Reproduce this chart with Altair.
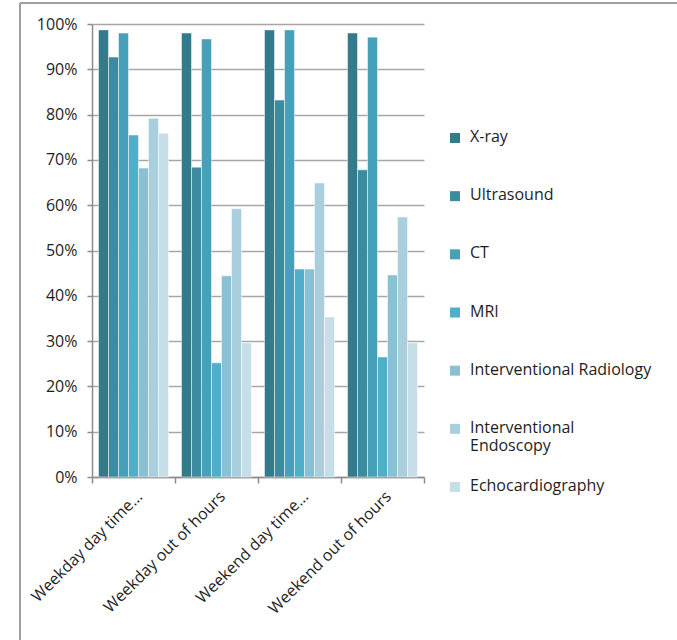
import altair as alt
import pandas as pd

# Share of hospitals with each imaging service available, by time period
periods = [
    "Weekday day time…",
    "Weekday out of hours",
    "Weekend day time…",
    "Weekend out of hours",
]
services = [
    "X-ray",
    "Ultrasound",
    "CT",
    "MRI",
    "Interventional Radiology",
    "Interventional Endoscopy",
    "Echocardiography",
]
# Legend text, with the long name split over two lines
legend_labels = [
    ["X-ray"],
    ["Ultrasound"],
    ["CT"],
    ["MRI"],
    ["Interventional Radiology"],
    ["Interventional", "Endoscopy"],
    ["Echocardiography"],
]
colors = ["#337A8B", "#3B8CA1", "#46A0B9", "#4FAFC8", "#88C1D3", "#A9CFDE", "#C6DEE8"]

# Percent values per service, one entry per period
xray = [98.7, 98.0, 98.7, 98.0]
ultrasound = [92.7, 68.4, 83.2, 67.8]
ct = [98.0, 96.7, 98.7, 97.1]
mri = [75.5, 25.2, 45.9, 26.5]
interventional_radiology = [68.2, 44.4, 45.9, 44.6]
interventional_endoscopy = [79.2, 59.2, 64.9, 57.4]
echocardiography = [75.9, 29.6, 35.3, 29.6]

series = [xray, ultrasound, ct, mri, interventional_radiology,
          interventional_endoscopy, echocardiography]

rows = []
for name, vals in zip(services, series):
    for p, v in zip(periods, vals):
        rows.append({"period": p, "service": name, "pct": v})
df = pd.DataFrame(rows)

legend_df = pd.DataFrame({"service": services, "label": legend_labels})

FONT = "Open Sans"
FS = 16
TXT = "#1E1E1E"
GRID = "#A6A6A6"
AXIS = "#8C8C8C"

color_scale = alt.Scale(domain=services, range=colors)

bars = alt.Chart(df).mark_bar(
    stroke="#FFFFFF", strokeWidth=0.8, strokeOpacity=0.6
).encode(
    x=alt.X(
        "period:N",
        sort=periods,
        title=None,
        scale=alt.Scale(paddingInner=0, paddingOuter=0),
        axis=alt.Axis(
            labelAngle=-45,
            labelFontSize=FS,
            labelFont=FONT,
            labelColor=TXT,
            labelPadding=5,
            labelLimit=300,
            tickBand="extent",
            tickSize=6,
            tickColor=AXIS,
            tickWidth=1.5,
            domainColor=AXIS,
            domainWidth=1.5,
            grid=False,
        ),
    ),
    xOffset=alt.XOffset(
        "service:N",
        sort=services,
        scale=alt.Scale(paddingInner=0, paddingOuter=0.65),
    ),
    y=alt.Y(
        "pct:Q",
        title=None,
        scale=alt.Scale(domain=[0, 100], nice=False),
        axis=alt.Axis(
            values=list(range(0, 101, 10)),
            labelExpr="datum.value + '%'",
            labelFontSize=FS,
            labelFont=FONT,
            labelColor=TXT,
            labelPadding=10,
            tickSize=5,
            tickColor=AXIS,
            tickWidth=1.5,
            domainColor=AXIS,
            domainWidth=1.5,
            gridColor=GRID,
            gridWidth=1.5,
        ),
    ),
    color=alt.Color("service:N", sort=services, scale=color_scale, legend=None),
)

# Legend column to the right of the plot, evenly spaced entries
legend_y = alt.Y(
    "service:N",
    sort=services,
    scale=alt.Scale(type="point", range=[114, 463], padding=0),
    axis=None,
)
legend_marks = alt.Chart(legend_df).mark_square(size=100, opacity=1).encode(
    x=alt.value(363),
    y=legend_y,
    color=alt.Color("service:N", sort=services, scale=color_scale, legend=None),
)
legend_text = alt.Chart(legend_df).mark_text(
    align="left", baseline="top", dy=-9, font=FONT, fontSize=FS,
    color=TXT, lineHeight=18,
).encode(
    x=alt.value(378),
    y=legend_y,
    text="label",
)

# Thin frame along the left and top edges of the figure
frame_data = alt.Data(values=[{"k": 0}])
frame_left = alt.Chart(frame_data).mark_rule(color="#A0A0A0", strokeWidth=2).encode(
    x=alt.value(-72), y=alt.value(-21), y2=alt.value(700)
)
frame_top = alt.Chart(frame_data).mark_rule(color="#A0A0A0", strokeWidth=2).encode(
    x=alt.value(-72), x2=alt.value(700), y=alt.value(-21)
)

chart = alt.layer(
    bars, legend_marks, legend_text, frame_left, frame_top
).resolve_scale(y="independent").properties(
    width=332,
    height=453,
    autosize=alt.AutoSizeParams(type="none"),
    padding={"left": 92, "top": 24, "right": 253, "bottom": 163},
    background="#FFFFFF",
).configure_view(strokeWidth=0)

chart.save("out.html", embed_options={"renderer": "svg", "actions": False})
